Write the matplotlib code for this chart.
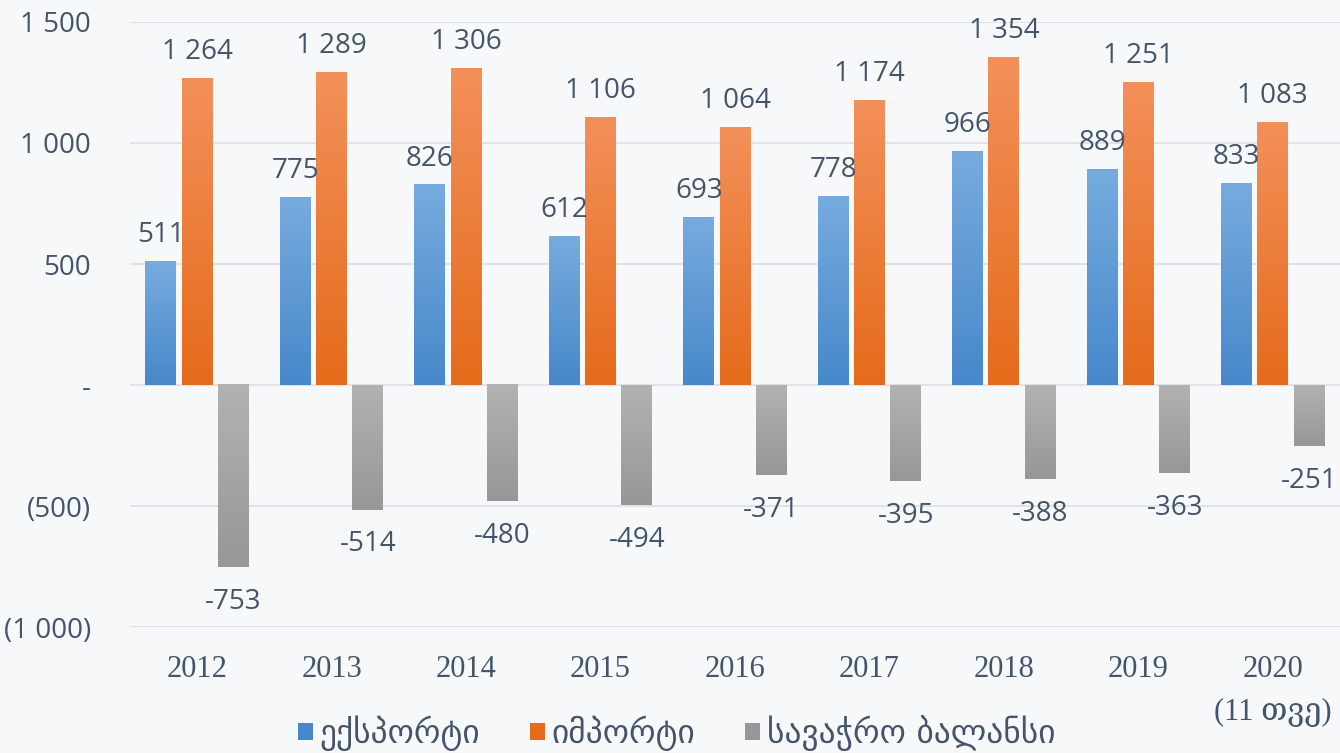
import numpy as np
import matplotlib.pyplot as plt
from matplotlib.colors import LinearSegmentedColormap
from matplotlib.patches import Patch

# Данные
years = ['2012', '2013', '2014', '2015', '2016', '2017', '2018', '2019', '2020\n(11 თვე)']
export = [511, 775, 826, 612, 693, 778, 966, 889, 833]
imports = [1264, 1289, 1306, 1106, 1064, 1174, 1354, 1251, 1083]
balance = [-753, -514, -480, -494, -371, -395, -388, -363, -251]

series_names = ['ექსპორტი', 'იმპორტი', 'სავაჭრო ბალანსი']

yticks = [-1000, -500, 0, 500, 1000, 1500]
ytick_labels = ['(1 000)', '(500)', '-', '500', '1 000', '1 500']

# Стиль
bg = '#f7f8f9'
text_color = '#44546a'
grid_color = '#dcdfe3'
# (светлый верх, тёмный низ)
colors = [('#77abde', '#4788ca'), ('#f3905a', '#e56b1b'), ('#b2b2b2', '#979797')]
num_font = ['Open Sans', 'DejaVu Sans']
serif_font = ['Liberation Serif', 'DejaVu Serif', 'DejaVu Sans']

bar_w = 0.23
step = 0.27

fig = plt.figure(figsize=(13.4, 7.53), dpi=100, facecolor=bg)
ax = fig.add_axes([0.097, 0.167, 0.903, 0.804], facecolor=bg)

x = np.arange(len(years))
all_series = [export, imports, balance]

for i, vals in enumerate(all_series):
    pos = x + (i - 1) * step
    bars = ax.bar(pos, vals, width=bar_w, color='none', zorder=2)
    top_c, bot_c = colors[i]
    cmap = LinearSegmentedColormap.from_list('g%d' % i, [bot_c, top_c])
    grad = np.linspace(0, 1, 256).reshape(-1, 1)
    for b, v in zip(bars, vals):
        x0, w = b.get_x(), b.get_width()
        y_lo, y_hi = min(0, v), max(0, v)
        ax.imshow(grad, extent=[x0, x0 + w, y_lo, y_hi], origin='lower',
                  cmap=cmap, aspect='auto', zorder=2, interpolation='bilinear')
        label = '{:,}'.format(v).replace(',', ' ')
        if v >= 0:
            ax.annotate(label, (b.get_x() + w / 2, v), xytext=(0, 9),
                        textcoords='offset points', ha='center', va='bottom',
                        fontsize=20, color=text_color, family=num_font)
        else:
            ax.annotate(label, (b.get_x() + w / 2, v), xytext=(0, -15),
                        textcoords='offset points', ha='center', va='top',
                        fontsize=20, color=text_color, family=num_font)

ax.set_xlim(-0.5, len(years) - 0.5)
ax.set_ylim(-1000, 1500)
ax.set_yticks(yticks)
ax.set_yticklabels(ytick_labels, fontsize=20, color=text_color, family=num_font)
ax.set_xticks(x)
ax.set_xticklabels(years, fontsize=22, color=text_color, family=serif_font,
                   linespacing=1.65, va='top')
ax.tick_params(axis='both', length=0)
ax.tick_params(axis='y', pad=28)
ax.tick_params(axis='x', pad=20)
ax.grid(axis='y', color=grid_color, linewidth=1.2, zorder=0)
ax.set_axisbelow(True)
for s in ax.spines.values():
    s.set_visible(False)

handles = [Patch(facecolor=c[1], edgecolor='none') for c in colors]
fig.legend(handles, series_names, loc='center', bbox_to_anchor=(0.505, 0.026),
           ncol=3, frameon=False, handlelength=0.45, handleheight=0.45,
           handletextpad=0.2, columnspacing=1.5, labelcolor=text_color,
           borderpad=0.1, prop={'family': ['DejaVu Sans'], 'size': 24})

fig.savefig('out.png', dpi=100, facecolor=bg)
